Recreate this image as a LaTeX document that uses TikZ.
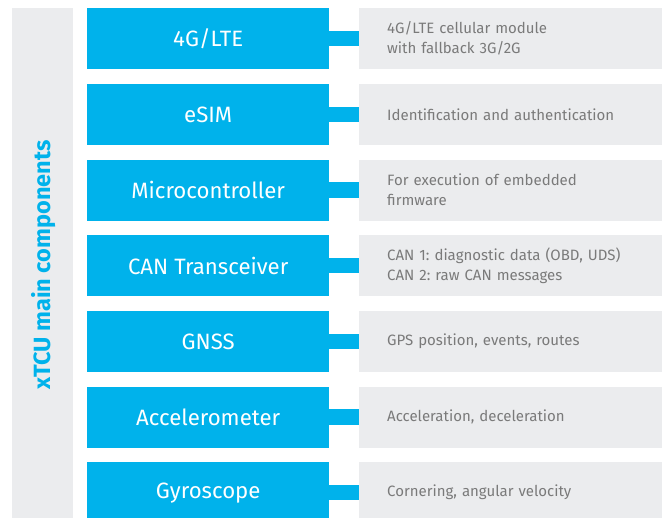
\documentclass[tikz,border=0pt]{standalone}
\usepackage{fontspec}
\setmainfont{Fira Sans}
\frenchspacing
\definecolor{xblue}{HTML}{00B2EB}
\definecolor{xgray}{HTML}{EBECEE}
\definecolor{xtext}{HTML}{7A7A7A}
\begin{document}
\begin{tikzpicture}[x=1pt,y=-1pt,
  comp/.style={fill=xblue,text=white,minimum width=242pt,minimum height=61pt,inner sep=0pt,anchor=north west,font=\fontsize{22.2}{26}\selectfont},
  desc/.style={fill=xgray,text=xtext,text width=247pt,inner xsep=28pt,inner ysep=0pt,minimum height=61pt,anchor=north west,align=left,font=\fontsize{15}{20}\selectfont},
  link/.style={draw=xblue,line width=15.5pt}]
\clip (0,0) rectangle (666,517);
\fill[xgray] (12,8) rectangle (73,530);
\node[rotate=90,text=xblue,font=\fontsize{23.5}{26}\bfseries\selectfont] (title) at (44,265) {xTCU main components};
\foreach \i/\t/\a/\d in {1/8/4G\slash LTE/{4G/LTE cellular module\\with fallback 3G/2G},
  2/83.67/eSIM/{Identification and authentication},
  3/159.33/Microcontroller/{For execution of embedded\\firmware},
  4/235/CAN Transceiver/{CAN 1: diagnostic data (OBD, UDS)\\CAN 2: raw CAN messages},
  5/310.67/GNSS/{GPS position, events, routes},
  6/386.33/Accelerometer/{Acceleration, deceleration},
  7/462/Gyroscope/{Cornering, angular velocity}}{
  \node[comp] (b\i) at (87,\t) {\a};
  \node[desc] (d\i) at (359,\t) {\d};
  \draw[link] (b\i.east) -- (d\i.west);
}
\end{tikzpicture}
\end{document}
